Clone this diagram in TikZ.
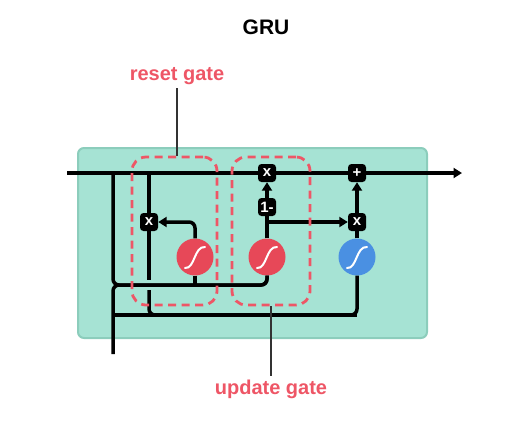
\documentclass[tikz,border=0pt]{standalone}
\usepackage{fontspec}
\setmainfont{Liberation Sans}
\usepackage{xcolor}
\usepackage{tikz}
\usetikzlibrary{calc,arrows.meta}

\definecolor{cellgreen}{RGB}{166,227,212}
\definecolor{cellborder}{RGB}{140,205,188}
\definecolor{gatered}{RGB}{231,72,88}
\definecolor{gateblue}{RGB}{74,144,226}
\definecolor{labelred}{RGB}{238,86,102}

\begin{document}
\begin{tikzpicture}[
    x=1pt, y=-1pt,
    cell/.style={rectangle, draw=cellborder, fill=cellgreen, line width=2pt, rounded corners=6pt, minimum width=349pt, minimum height=190pt},
    gate/.style={rectangle, fill=black, rounded corners=3.5pt, minimum size=18pt, inner sep=0pt, text=white, font=\fontsize{15}{15}\selectfont\bfseries},
    sigm/.style={circle, fill=gatered, minimum size=37pt, inner sep=0pt},
    tanhc/.style={sigm, fill=gateblue},
    region/.style={rectangle, draw=labelred, dash pattern=on 8pt off 5.5pt, line width=2.8pt, rounded corners=14pt},
    caption/.style={text=labelred, font=\fontsize{20}{24}\selectfont\bfseries},
    title/.style={font=\fontsize{21}{24}\selectfont\bfseries},
    wire/.style={line width=3.5pt, rounded corners=6pt},
    arrow/.style={wire, -{Triangle[length=8.5pt,width=10pt]}},
    pointer/.style={draw=black!80, line width=1.3pt}
]
    \useasboundingbox (0,0) rectangle (532,429);

    % Cell
    \node[cell] (cell) at (252.5,243) {};

    % Gates
    \node[gate] (ux) at (267,173) {x};
    \node[gate] (plus) at (357,173) {+};
    \node[gate] (rx) at (149,222) {x};
    \node[gate] (one) at (267,207) {1-};
    \node[gate] (hx) at (357,222) {x};

    % Activations
    \node[sigm] (rsig) at (195,257) {};
    \node[sigm] (usig) at (267,257) {};
    \node[tanhc] (tanh) at (357,257) {};
    \foreach \s in {rsig,usig,tanh}
        \draw[white, line width=2pt, line cap=round] ($(\s)+(-10,11)$) .. controls ($(\s)+(0,12)$) and ($(\s)+(-1,-11)$) .. ($(\s)+(10,-10)$);

    % Junctions
    \coordinate (hin) at (67,173);
    \coordinate (hout) at (462,173);
    \coordinate (xin) at (113,354);
    \coordinate (hsplit) at (113,173);
    \coordinate (rsplit) at (149,173);
    \coordinate (jx) at (113,285);
    \coordinate (xsplit) at (113,315);
    \coordinate (rgap) at (149,280);
    \coordinate (rgap2) at (149,290);
    \coordinate (tjoin) at (357,315);
    \coordinate (ubr) at (267,222);

    % Arrows
    \draw[arrow] (hin) -- (ux) -- (plus) -- (hout);
    \draw[wire] (hsplit) -- (jx) -| (usig.south);
    \draw[wire] (xin) -- (jx) -| (usig.south);
    \draw[wire] (rsig.south) -- (rsig.south |- jx);
    \draw[arrow] (rsig.north) |- (rx.east);
    \draw[wire] (rsplit) -- (rx) -- (rgap);
    \draw[wire] (rgap2) -- (rgap2 |- xsplit) -- (tjoin) -- (tanh.south);
    \draw[wire] (xsplit) -- (tjoin);
    \draw[wire] (usig) -- (one);
    \draw[arrow] (one) -- (ux);
    \draw[arrow] (ubr) -- (hx);
    \draw[wire] (tanh) -- (hx);
    \draw[arrow] (hx) -- (plus);

    % Gate regions
    \node[region, minimum width=85pt, minimum height=148pt] (rbox) at (174.5,231) {};
    \node[region, minimum width=78pt, minimum height=148pt] (ubox) at (271,231) {};

    % Labels
    \node[title] (gru) at (266,27) {GRU};
    \node[caption] (rlabel) at (177,76) {reset gate};
    \node[caption] (ulabel) at (271,389) {update gate};
    \draw[pointer] (rlabel.south) -- (rlabel.south |- rbox.north);
    \draw[pointer] (ubox.south -| ulabel) -- (ulabel.north);
\end{tikzpicture}
\end{document}
